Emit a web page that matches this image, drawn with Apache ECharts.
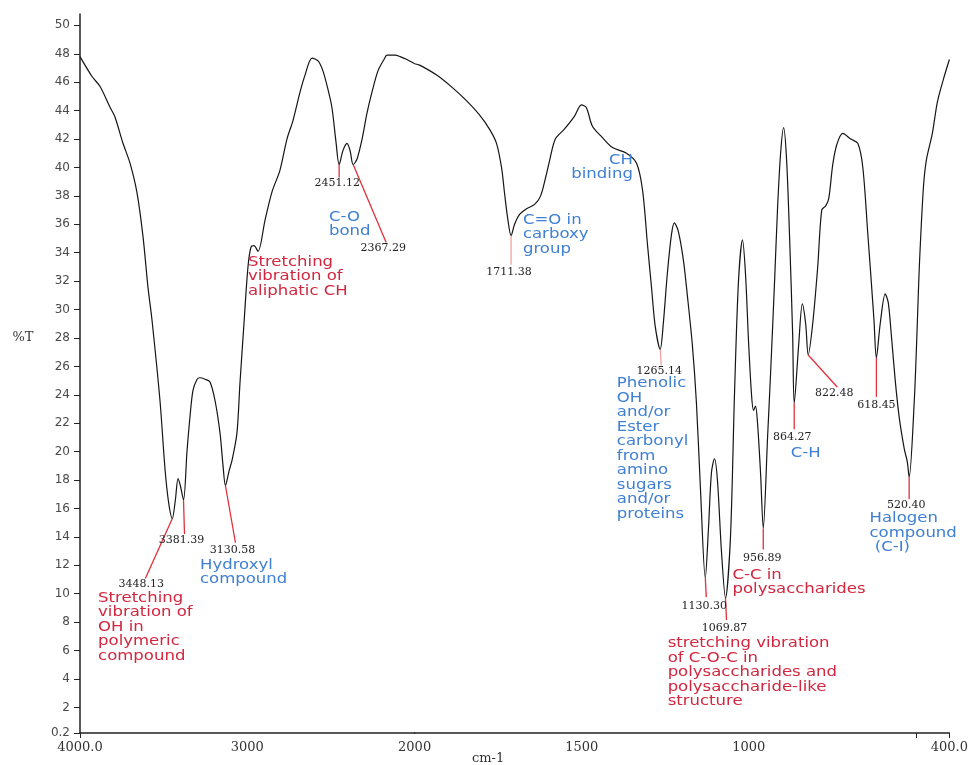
<!DOCTYPE html>
<html><head><meta charset="utf-8">
<script src="https://cdn.jsdelivr.net/npm/echarts@6/dist/echarts.min.js"></script>
<style>html,body{margin:0;padding:0;background:#fff}#c{width:971px;height:765px}</style>
</head><body><div id="c"></div>
<script>
// ---------- DATA ----------
const wavenumber = [
  4000, 3928, 3880, 3821, 3791, 3743, 3701, 3659, 3623, 3594, 3570, 3522, 3492, 3470, 3448.13,
  3430, 3414, 3400, 3381.39, 3360, 3343, 3325, 3300, 3283, 3253, 3223, 3193, 3163, 3145, 3130.58,
  3110, 3091, 3062, 3044, 3020, 2996, 2978, 2960, 2936, 2894, 2852, 2805, 2763, 2727, 2685,
  2655, 2613, 2577, 2548, 2518, 2494, 2470, 2451.12, 2428, 2404, 2386, 2367.29, 2344, 2314, 2285,
  2255, 2219, 2183, 2165, 2117, 2087, 2046, 2000,
  1985, 1934, 1886, 1845, 1806, 1776, 1755, 1740, 1731, 1722, 1711.38, 1701, 1686, 1665, 1641,
  1623, 1608, 1596, 1579, 1552, 1522, 1501, 1486, 1468, 1438, 1408, 1366, 1336, 1318, 1303,
  1291, 1280, 1265.14, 1256, 1244, 1232, 1223, 1211, 1196, 1184, 1169, 1157, 1145, 1130.30, 1121,
  1112, 1103, 1094, 1082, 1069.87, 1055, 1043, 1031, 1019, 1010, 1001, 992, 986, 980, 974,
  965, 956.89, 944, 935, 923, 914, 905, 896, 887, 878, 869, 864.27, 851, 840, 830,
  822.48, 809, 794, 782, 770, 761, 749, 737, 719, 695, 674, 659, 644, 626, 618.45,
  607, 592, 583, 574, 562, 550, 535, 526, 520.40, 505, 496, 490, 478, 469, 451,
  436, 418, 400
];
const transmittance = [
  47.8, 46.4, 45.7, 44.25, 43.55, 41.7, 40.3, 38.2, 35.1, 31.6, 29.3, 23.6, 18.8, 16.4, 15.3,
  16.6, 18.1, 17.6, 16.6, 20.1, 22.4, 24.3, 25.1, 25.2, 25.1, 24.9, 23.6, 21.3, 19.0, 17.6,
  18.6, 19.4, 21.3, 24.8, 29.0, 33.0, 34.4, 34.5, 34.1, 36.3, 38.3, 39.8, 42.0, 43.3, 45.3,
  46.5, 47.7, 47.5, 46.8, 45.5, 44.2, 41.8, 40.2, 41.2, 41.7, 41.2, 40.2, 40.6, 42.0, 43.8,
  45.3, 46.8, 47.6, 47.9, 47.9, 47.8, 47.6, 47.3,
  47.2, 46.5, 45.6, 44.7, 43.7, 42.7, 41.7, 40.0, 38.2, 36.5, 35.2, 36.0, 36.7, 37.1, 37.4,
  38.0, 39.3, 40.5, 42.0, 42.7, 43.6, 44.4, 44.2, 42.9, 42.1, 41.4, 41.0, 40.3, 38.4, 34.5,
  31.5, 28.8, 27.2, 29.0, 32.5, 35.2, 36.1, 35.5, 33.5, 31.0, 27.5, 23.5, 17.5, 11.1, 14.5,
  18.5, 19.5, 18.0, 13.0, 9.7, 14.0, 24.0, 32.0, 34.9, 32.5, 27.8, 24.0, 22.9, 23.2, 22.0,
  18.5, 14.6, 21.0, 25.5, 32.0, 37.2, 41.0, 42.8, 40.5, 35.0, 28.3, 23.4, 27.5, 30.4, 29.0,
  26.8, 29.0, 33.0, 37.0, 37.3, 37.8, 40.2, 41.6, 42.4, 42.0, 41.7, 40.0, 35.3, 29.4, 26.6,
  29.0, 31.1, 30.5, 28.3, 25.0, 22.4, 20.2, 19.3, 18.2, 23.6, 29.0, 33.0, 38.5, 40.5, 42.4,
  44.6, 46.2, 47.6
];
const peakWavenumbers = [3448.13, 3381.39, 3130.58, 2451.12, 2367.29, 1711.38, 1265.14,
  1130.30, 1069.87, 956.89, 864.27, 822.48, 618.45, 520.40];
const xTickValues = [4000, 3000, 2000, 1500, 1000, 400];
const xTickLabels = ['4000.0', '3000', '2000', '1500', '1000', '400.0'];
const yTickValues = [0.2, 2, 4, 6, 8, 10, 12, 14, 16, 18, 20, 22, 24, 26, 28, 30, 32, 34, 36, 38, 40, 42, 44, 46, 48, 50];
const yTickLabels = ['0.2', '2', '4', '6', '8', '10', '12', '14', '16', '18', '20', '22', '24', '26', '28', '30', '32', '34', '36', '38', '40', '42', '44', '46', '48', '50'];
const yAxisTitle = '%T';
const xAxisTitle = 'cm-1';
const noteTexts = [
  'Stretching\nvibration of\nOH in\npolymeric\ncompound',
  'Hydroxyl\ncompound',
  'C-O\nbond',
  'Stretching\nvibration of\naliphatic CH',
  'C=O in\ncarboxy\ngroup',
  'CH\nbinding',
  'Phenolic\nOH\nand/or\nEster\ncarbonyl\nfrom\namino\nsugars\nand/or\nproteins',
  'stretching vibration\nof C-O-C in\npolysaccharides and\npolysaccharide-like\nstructure',
  'C-C in\npolysaccharides',
  'C-H',
  'Halogen\ncompound\n (C-I)'
];

// ---------- LAYOUT / STYLE ----------
const RED = '#d3263f', BLUE = '#3f80d4', LEAD = '#e2303c', PINK = '#f2a2a2';
// where each note sits: data anchor [wavenumber, %T] of its first line
const noteLayout = [
  {at: [3892, 9.7], color: RED, align: 'left'},
  {at: [3283, 12.0], color: BLUE, align: 'left'},
  {at: [2512, 36.5], color: BLUE, align: 'left'},
  {at: [2996, 33.35], color: RED, align: 'left'},
  {at: [1676, 36.3], color: BLUE, align: 'left'},
  {at: [1347, 40.5], color: BLUE, align: 'right'},
  {at: [1395, 24.8], color: BLUE, align: 'left'},
  {at: [1243, 6.5], color: RED, align: 'left'},
  {at: [1049, 11.3], color: RED, align: 'left'},
  {at: [830, 19.9], color: BLUE, align: 'center'},
  {at: [639, 15.3], color: BLUE, align: 'left'}
];
// pixel offsets from each peak: leader end and number-label centre
const peakLayout = [
  {line: [-27, 60], label: [-31, 66], color: LEAD},
  {line: [1, 34], label: [-2, 40], color: LEAD},
  {line: [10, 57], label: [7, 64], color: LEAD},
  {line: [0, 13], label: [-2, 19], color: LEAD},
  {line: [33, 78], label: [30, 84], color: LEAD},
  {line: [0, 29], label: [-2, 36], color: PINK},
  {line: [1, 16], label: [-1, 22], color: PINK},
  {line: [1, 19], label: [-1, 28], color: LEAD},
  {line: [1, 22], label: [-1, 30], color: LEAD},
  {line: [0, 21], label: [-1, 30], color: LEAD},
  {line: [0, 26], label: [-2, 34], color: LEAD},
  {line: [29, 32], label: [26, 38], color: LEAD},
  {line: [0, 39], label: [0, 47], color: LEAD},
  {line: [0, 22], label: [-3, 28], color: LEAD}
];

const SPLIT = 2000;
const unit = 870 / 5200;  // px per cm-1 on the 4000-2000 part (2000-400 part is doubled)
const gridLeft = 80, gridTop = 14, gridBottom = 32;

const leftData = [], rightData = [];
wavenumber.forEach((w, i) => {
  if (w >= SPLIT) leftData.push([w, transmittance[i]]);
  if (w <= SPLIT) rightData.push([w, transmittance[i]]);
});

function lookup(vals, labels, v) {
  let best = 0;
  vals.forEach((t, i) => { if (Math.abs(t - v) < Math.abs(vals[best] - v)) best = i; });
  return labels[best];
}

const chart = echarts.init(document.getElementById('c'));
const axisLine = {show: true, lineStyle: {color: '#222', width: 1.5}};
const xLabelStyle = {color: '#333', fontFamily: 'DejaVu Serif', fontSize: 13, margin: 8,
  showMinLabel: true, showMaxLabel: true,
  formatter: v => lookup(xTickValues, xTickLabels, v)};

chart.setOption({
  animation: false,
  backgroundColor: '#fff',
  grid: [
    {left: gridLeft, top: gridTop, bottom: gridBottom, width: 2000 * unit, containLabel: false},
    {left: gridLeft + 2000 * unit, top: gridTop, bottom: gridBottom, width: 3200 * unit, containLabel: false}
  ],
  xAxis: [
    {type: 'value', gridIndex: 0, min: 2000, max: 4000, inverse: true,
      axisLine, splitLine: {show: false},
      axisTick: {show: true, customValues: [4000], length: 5, lineStyle: {color: '#222'}},
      axisLabel: Object.assign({customValues: xTickValues.filter(v => v >= SPLIT)}, xLabelStyle)},
    {type: 'value', gridIndex: 1, min: 400, max: 2000, inverse: true,
      axisLine, splitLine: {show: false},
      axisTick: {show: true, customValues: [500, 400], length: 5, lineStyle: {color: '#222'}},
      axisLabel: Object.assign({customValues: xTickValues.filter(v => v < SPLIT)}, xLabelStyle)}
  ],
  yAxis: [
    {type: 'value', gridIndex: 0, min: 0.2, max: 50.8,
      axisLine, splitLine: {show: false},
      axisTick: {show: true, customValues: yTickValues, length: 6, lineStyle: {color: '#222'}},
      axisLabel: {customValues: yTickValues, color: '#4a4a4a', fontFamily: 'DejaVu Sans', fontSize: 12, margin: 10,
        showMinLabel: true, showMaxLabel: true,
        formatter: v => lookup(yTickValues, yTickLabels, v)}},
    {type: 'value', gridIndex: 1, min: 0.2, max: 50.8, show: false, splitLine: {show: false}}
  ],
  series: [
    {type: 'line', xAxisIndex: 0, yAxisIndex: 0, data: leftData, symbol: 'none', smooth: 0.3,
      lineStyle: {color: '#151515', width: 1.2}},
    {type: 'line', xAxisIndex: 1, yAxisIndex: 1, data: rightData, symbol: 'none', smooth: 0.3,
      lineStyle: {color: '#151515', width: 1.2}}
  ]
});

function toPx(wn, t) {
  return chart.convertToPixel({gridIndex: wn >= SPLIT ? 0 : 1}, [wn, t]);
}

const graphics = [];
peakWavenumbers.forEach((wn, i) => {
  const idx = wavenumber.indexOf(wn);
  const p = toPx(wn, transmittance[idx]);
  const L = peakLayout[i];
  graphics.push({type: 'line', silent: true, z: 50,
    shape: {x1: p[0], y1: p[1], x2: p[0] + L.line[0], y2: p[1] + L.line[1]},
    style: {stroke: L.color, lineWidth: 1.3}});
  graphics.push({type: 'text', silent: true, z: 51, x: p[0] + L.label[0], y: p[1] + L.label[1],
    style: {text: wn.toFixed(2), font: '11px "DejaVu Serif"', fill: '#222', align: 'center', verticalAlign: 'middle'}});
});
noteTexts.forEach((txt, i) => {
  const N = noteLayout[i];
  const p = toPx(N.at[0], N.at[1]);
  graphics.push({type: 'text', silent: true, z: 52, x: p[0], y: p[1] - 7.25, scaleX: 1.18,
    style: {text: txt, font: '14px "DejaVu Sans"', lineHeight: 14.5, fill: N.color, align: N.align, verticalAlign: 'top'}});
});
// axis titles
const yt = toPx(4000, 28);
graphics.push({type: 'text', silent: true, x: gridLeft - 57, y: yt[1],
  style: {text: yAxisTitle, font: '13px "DejaVu Serif"', fill: '#333', align: 'center', verticalAlign: 'middle'}});
const c = toPx(1780, 0.2);
graphics.push({type: 'text', silent: true, x: c[0], y: c[1] + 26,
  style: {text: xAxisTitle, font: '13px "DejaVu Serif"', fill: '#333', align: 'center', verticalAlign: 'middle'}});

chart.setOption({graphic: graphics});
</script>
</body></html>
